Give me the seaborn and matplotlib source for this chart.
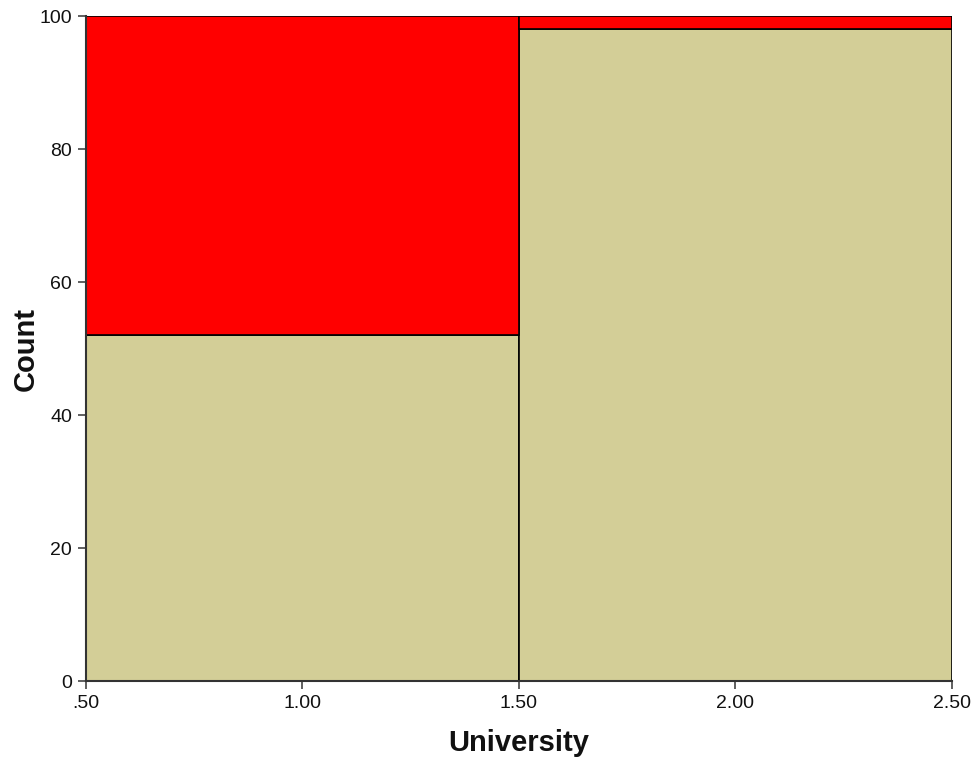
import matplotlib
matplotlib.use("Agg")
import matplotlib.pyplot as plt
import seaborn as sns
import pandas as pd

# Data
university = [1, 1, 2, 2]
group = ["B", "A", "B", "A"]          # B = red (top), A = tan (bottom)
counts = [48, 52, 2, 98]
bin_edges = [0.5, 1.5, 2.5]
xticks = [0.5, 1.0, 1.5, 2.0, 2.5]
xtick_labels = [".50", "1.00", "1.50", "2.00", "2.50"]
yticks = [0, 20, 40, 60, 80, 100]

df = pd.DataFrame({"University": university, "group": group, "count": counts})

sns.set_style("white")
plt.rcParams["font.family"] = ["Liberation Sans", "DejaVu Sans"]

fig = plt.figure(figsize=(9.77, 7.65), dpi=100)
ax = fig.add_axes([0.088, 0.1098, 0.8864, 0.8692])

sns.histplot(data=df, x="University", weights="count", hue="group",
             hue_order=["B", "A"], bins=bin_edges, multiple="stack",
             palette={"A": "#D3CE97", "B": "#FF0000"}, alpha=1,
             edgecolor="#000000", linewidth=1.2, legend=False, ax=ax)

ax.set_xlim(0.5, 2.5)
ax.set_ylim(0, 100)
ax.set_xticks(xticks)
ax.set_xticklabels(xtick_labels)
ax.set_yticks(yticks)
ax.set_xlabel("University", fontsize=21, fontweight="bold", labelpad=12, color="#111111")
ax.set_ylabel("Count", fontsize=21, fontweight="bold", labelpad=0, color="#111111")
ax.tick_params(axis="both", direction="out", length=6, width=1.2,
               color="#444444", labelsize=14, labelcolor="#111111", pad=4)
ax.tick_params(axis="x", bottom=True)
ax.tick_params(axis="y", left=True)
for s in ["top", "right"]:
    ax.spines[s].set_visible(False)
for s in ["left", "bottom"]:
    ax.spines[s].set_color("#333333")
    ax.spines[s].set_linewidth(1.5)

fig.savefig("out.png", dpi=100, facecolor="white")
